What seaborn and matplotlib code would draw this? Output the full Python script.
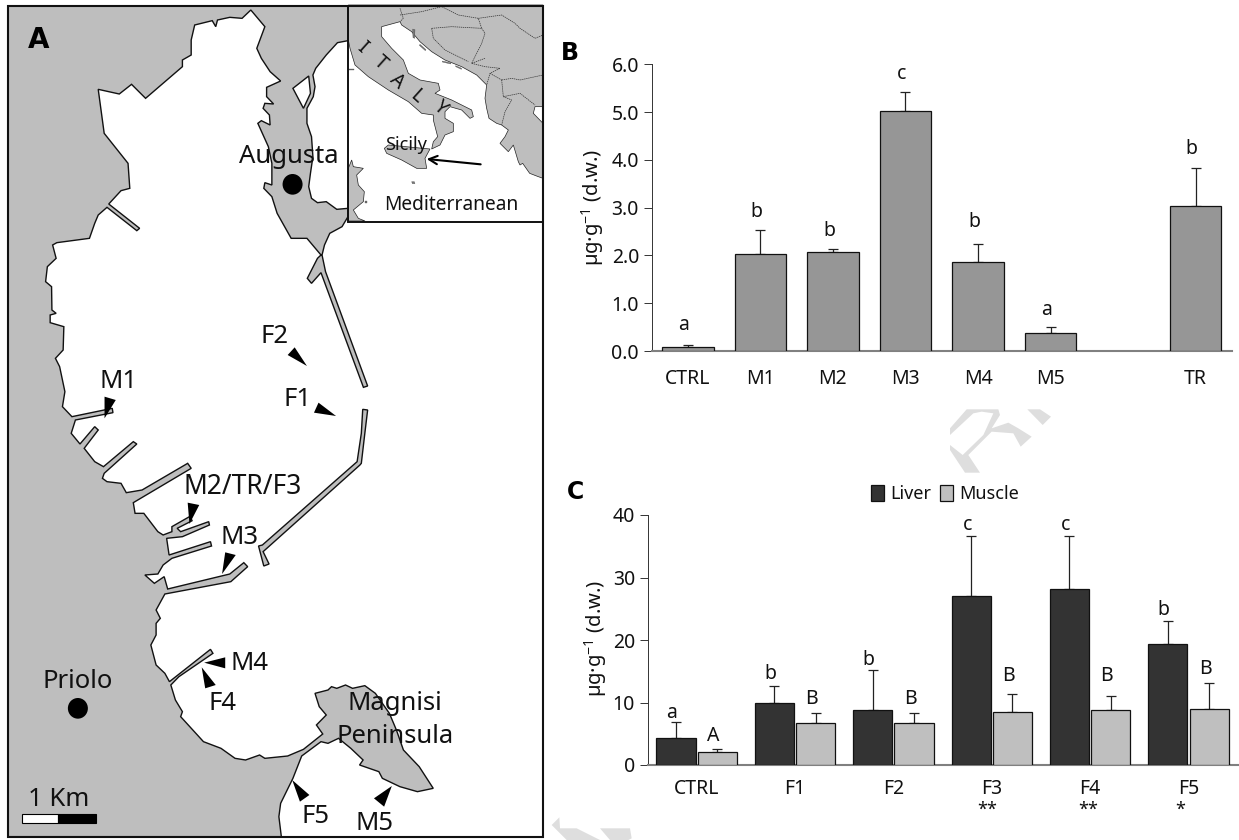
import numpy as np
import pandas as pd
import matplotlib
matplotlib.use("Agg")
import matplotlib.pyplot as plt
from matplotlib.patches import Polygon, Rectangle, Ellipse
import seaborn as sns

# ---------- data ----------
cats_b = ["CTRL", "M1", "M2", "M3", "M4", "M5", "", "TR"]
vals_b = [0.09, 2.04, 2.07, 5.03, 1.87, 0.38, np.nan, 3.03]
tops_b = [0.12, 2.53, 2.13, 5.43, 2.24, 0.50, np.nan, 3.84]
lets_b = ["a", "b", "b", "c", "b", "a", "", "b"]
pads_b = [20, 18, 18, 18, 22, 17, 0, 19]

cats_c = ["CTRL", "F1", "F2", "F3", "F4", "F5"]
liver = [4.4, 9.9, 8.8, 27.1, 28.1, 19.4]
liver_top = [6.9, 12.6, 15.2, 36.7, 36.7, 23.1]
muscle = [2.1, 6.7, 6.7, 8.5, 8.8, 9.0]
muscle_top = [2.5, 8.3, 8.3, 11.3, 11.1, 13.2]
lets_l = ["a", "b", "b", "c", "c", "b"]
lets_m = ["A", "B", "B", "B", "B", "B"]
pads_l = [9, 12, 10, 11, 11, 11]
pads_m = [13, 14, 14, 18, 20, 13]
stars_c = ["", "", "", "**", "**", "*"]
stars_dx = [0, 0, 0, -5, -2, -8]

# map outlines (map coordinates)
SX = 0.3508
OFF = 1260
def low(pts):
    return [(x, y + OFF) for x, y in pts]
def ins(pts):
    return [((345 + x / 3) / SX, 15 + y) for x, y in pts]
def wm(pts):
    return [(x / 3 / SX, y) for x, y in pts]

land_main = [(22,18),(992,18),(992,122),(962,128),(930,165),(900,205),(892,225),(898,260),(893,290),(875,325),
 (875,370),(888,410),(892,470),(885,520),(880,560),(888,595),(905,608),(930,605),(960,628),(992,625),(992,650),
 (975,680),(940,700),(925,735),(918,765),(928,815),(1048,1158),(1036,1162),(915,818),(888,850),(876,835),(905,775),
 (915,765),(875,715),(830,715),(790,640),(775,590),(752,565),(755,548),(775,555),(775,490),(765,440),(735,370),
 (745,362),(770,375),(768,345),(750,325),(755,310),(780,312),(760,290),(760,262),(800,243),(770,215),(745,175),
 (732,145),(755,80),(715,30),(690,55),(655,52),(620,60),(615,80),(605,62),(555,75),(545,120),(545,165),(520,180),
 (520,200),(415,295),(375,253),(340,282),(280,268),(297,400),(365,490),(370,565),(345,572),(310,612),(398,685),
 (390,692),(305,622),(280,645),(270,670),(255,715),(162,728),(150,735),(160,775),(135,800),(130,845),(147,860),
 (148,930),(160,940),(143,945),(143,968),(182,980),(180,1050),(158,1075),(170,1100),(185,1175),(178,1220),(205,1250),
 (320,1225),(322,1238),(215,1260)] + low([(203,40),(228,72),(270,20),(280,30),(240,85),(270,125),(295,140),(380,65),
 (390,72),(297,160),(292,175),(305,185),(345,190),(360,218),(405,210),(535,130),(545,145),(380,248),(385,280),
 (410,280),(450,335),(465,345),(490,335),(490,320),(540,290),(548,302),(505,325),(515,335),(595,305),(597,315),
 (520,350),(475,355),(482,405),(600,365),(603,378),(490,415),(465,435),(450,462),(413,465),(440,490),(468,470),
 (478,507),(655,462),(695,428),(706,440),(658,485),(470,522),(445,570),(457,595),(445,610),(445,645),(430,675),
 (445,735),(470,760),(483,785),(600,688),(607,700),(510,770),(487,795),(500,840),(520,875),(515,890),(580,965),
 (630,985),(670,1015),(700,1020),(740,1005),(755,1015),(820,1008),(865,988),(920,942),(902,915),(930,885),(910,860),
 (898,820),(935,810),(945,800),(960,805),(985,795),(1005,805),(1040,797),(1070,820),(1110,880),(1130,930),(1150,990),
 (1195,1040),(1235,1105),(1190,1115),(1140,1100),(1090,1075),(1080,1055),(1025,1035),(1035,1020),(1000,985),(965,955),
 (935,970),(915,965),(860,1008),(835,1075),(800,1150),(795,1190),(802,1250),(22,1250)])
pond = [(880,228),(835,265),(865,325),(885,280)]
breakwater = [(1034,1228),(1048,1230),(1040,1300),(1030,1390),(1026,1395),(750,1655),(767,1692),(752,1698),(737,1638),
              (748,1635),(1018,1385),(1030,1300)]

north_land = [(10,0),(594,0),(594,305),(570,305),(565,325),(594,355),(594,520),(580,515),(554,505),(533,475),(525,480),(520,470),
              (505,420),(490,440),(465,415),(480,395),(490,375),(470,360),(455,355),(432,340),(425,310),(420,280),(425,240),
              (395,210),(350,185),(300,165),(260,140),(225,110),(200,80),(170,60),(165,50),(110,65),(110,95),(140,130),(175,165),
              (190,205),(225,225),(280,235),(285,255),(270,265),(320,285),(380,315),(385,335),(375,340),(350,315),(315,305),
              (300,320),(300,340),(325,355),(325,380),(300,390),(285,420),(260,432),(265,410),(278,395),(265,345),(265,330),
              (230,325),(190,290),(130,255),(70,215),(30,180),(15,130),(10,105)]
sicily = [(118,430),(130,420),(255,432),(240,460),(245,490),(215,490),(170,465),(125,445)]
tunisia = [(10,490),(20,465),(25,485),(55,490),(35,510),(40,540),(58,560),(55,590),(25,615),(40,640),(60,648),(10,648)]
islets = [[(200,530),(208,530),(210,536),(202,536)],[(60,587),(66,587),(66,593),(60,593)],[(12,192),(26,192),(26,195),(12,195)],
          [(225,118),(243,134),(241,137),(223,121)],[(292,168),(318,174),(317,177),(292,171)],[(332,182),(350,190),(349,193),(332,185)],
          [(203,72),(210,74),(209,100),(204,98)]]
borders = [[(165,10),(175,40),(165,50)],[(165,30),(230,20),(290,5)],[(290,5),(340,30),(400,40),(410,70)],
           [(260,70),(320,65),(410,70),(420,85),(410,115),(380,175)],[(260,70),(265,100),(300,135),(370,170)],
           [(380,175),(420,185),(465,190),(435,205),(425,240)],[(470,225),(500,220),(525,225),(594,210)],
           [(470,225),(475,275),(500,285),(480,320),(470,360)],[(400,40),(470,30),(510,55),(525,70),(570,100),(594,90)],
           [(475,275),(525,265),(570,300)],[(435,205),(470,225)],[(420,160),(380,175)]]
watermark = [[(2850,1285),(2900,1228),(2995,1228),(3000,1245),(2975,1285),(3025,1268),(3055,1285),(3095,1310),(3062,1340),
              (3040,1300),(2975,1295),(2905,1365),(2940,1418),(2895,1418),(2850,1350),(2850,1335),(2888,1365),(2950,1305),
              (2980,1240),(2945,1235),(2920,1240),(2850,1305)],
             [(3082,1228),(3120,1228),(3153,1250),(3128,1275)],
             [(1655,2475),(1678,2452),(1680,2485),(1730,2485),(1800,2520),(1700,2520)],
             [(1800,2485),(1890,2485),(1895,2515),(1885,2520),(1830,2520)]]

markers = [[(840,1042),(820,1065),(875,1098)],[(908,1208),(895,1238),(958,1248)],[(298,1190),(330,1200),(298,1255)],
           [(535,1508),(568,1515),(540,1572)],[(642,1657),(672,1665),(633,1722)],[(642,1972),(642,2005),(582,1988)],
           [(575,2002),(615,2055),(585,2065)],[(833,2340),(882,2385),(855,2405)],[(1117,2358),(1095,2420),(1066,2395)]]
map_labels = [("Augusta",822,470,18.5),("Priolo",222,2045,18.5),("M1",338,1145,18.5),("F2",782,1010,18.5),("F1",848,1200,18.5),
              ("M2/TR/F3",692,1460,19),("M3",682,1612,18.5),("M4",710,1990,18.5),("F4",635,2110,18.5),("Magnisi",1125,2112,18.5),
              ("Peninsula",1125,2210,18.5),("F5",900,2450,18.5),("M5",1068,2470,18.5),("1 Km",168,2397,18.5)]
inset_labels = [("Sicily",183,420,13),("Mediterranean",320,600,13.8)]
italy_letters = [("I",50,128),("T",105,175),("A",155,230),("L",215,275),("Y",285,310)]

# ---------- style ----------
sns.set_theme(style="white")
plt.rcParams["font.family"] = ["Noto Sans", "DejaVu Sans"]
plt.rcParams["mathtext.fontset"] = "custom"
plt.rcParams["mathtext.rm"] = "Noto Sans"
plt.rcParams["mathtext.default"] = "regular"

W, H = 1239, 840
fig = plt.figure(figsize=(W / 100, H / 100), dpi=100, facecolor="white")

def px_axes(l, t, r, b):
    return fig.add_axes([l / W, 1 - b / H, (r - l) / W, (b - t) / H])

# ---------- map ----------
am = fig.add_axes([0, 0, 1, 1])
am.set_xlim(0, W / SX)
am.set_ylim(H * 3, 0)
am.axis("off")
GREY = "#BEBEBE"
for p in watermark:
    am.add_patch(Polygon(wm(p), closed=True, fc="#DEDEDE", ec="none", zorder=0))
am.add_patch(Polygon(land_main, closed=True, fc=GREY, ec="#111111", lw=1.0, zorder=1))
am.add_patch(Polygon(pond, closed=True, fc="white", ec="#111111", lw=1.0, zorder=2))
am.add_patch(Polygon(breakwater, closed=True, fc=GREY, ec="#111111", lw=1.0, zorder=2))
am.add_patch(Rectangle((992, 18), 556, 647, fc="white", ec="none", zorder=3))
for p in (north_land, sicily, tunisia):
    am.add_patch(Polygon(ins(p), closed=True, fc=GREY, ec="#222222", lw=0.5, zorder=4))
for p in islets:
    am.add_patch(Polygon(ins(p), closed=True, fc="#777777", ec="#333333", lw=0.2, zorder=4))
for b in borders:
    xs, ys = zip(*ins(b))
    am.plot(xs, ys, color="#333333", lw=0.5, ls=(0, (2, 1)), zorder=5)
am.add_patch(Rectangle((992, 18), 556, 647, fc="none", ec="#111111", lw=1.4, zorder=6))
am.add_patch(Rectangle((22, 18), 1526, 2492, fc="none", ec="#111111", lw=1.5, zorder=6))
for p in markers:
    am.add_patch(Polygon(p, closed=True, fc="black", ec="none", zorder=7))
am.add_patch(Ellipse((834, 553), 60 * 0.95, 62, fc="black", ec="none", zorder=7))
am.add_patch(Ellipse((222, 2125), 60 * 0.95, 62, fc="black", ec="none", zorder=7))
am.add_patch(Rectangle((62, 2442), 103, 28, fc="white", ec="black", lw=0.8, zorder=7))
am.add_patch(Rectangle((165, 2442), 110, 28, fc="black", ec="black", lw=0.8, zorder=7))
arrow_pts = ins([(245, 462), (407, 478)])
am.annotate("", xy=arrow_pts[0], xytext=arrow_pts[1],
            arrowprops=dict(arrowstyle="->", color="black", lw=1.5, mutation_scale=15, shrinkA=0, shrinkB=0), zorder=8)
for s, x, y, fs in map_labels:
    am.text(x, y, s, ha="center", va="center", fontsize=fs, color="#111111", zorder=8)
for s, x, y, fs in inset_labels:
    (px, py), = ins([(x, y)])
    am.text(px, py, s, ha="center", va="center", fontsize=fs, color="#111111", zorder=8)
for s, x, y in italy_letters:
    (px, py), = ins([(x, y)])
    am.text(px, py, s, ha="center", va="center", fontsize=14, rotation=-42, color="#111111", zorder=8)
am.text(110, 120, "A", ha="center", va="center", fontsize=20, fontweight="bold", color="black", zorder=8,
        family=["DejaVu Sans"])
fig.text(570 / W, 1 - 53 / H, "B", ha="center", va="center", fontsize=17, fontweight="bold", color="black", family=["DejaVu Sans"])
fig.text(575 / W, 1 - 492 / H, "C", ha="center", va="center", fontsize=17, fontweight="bold", color="black", family=["DejaVu Sans"])

def style_axis(ax, xpad):
    sns.despine(ax=ax)
    ax.patch.set_alpha(0)
    ax.spines["left"].set_color("#333333")
    ax.spines["left"].set_linewidth(0.7)
    ax.spines["bottom"].set_color("#808080")
    ax.spines["bottom"].set_linewidth(1.5)
    ax.tick_params(axis="y", length=6, width=0.7, color="#333333", left=True, pad=3, labelsize=14, labelcolor="#111111")
    ax.tick_params(axis="x", length=0, pad=xpad, labelsize=14, labelcolor="#111111")
    ax.set_xlabel("")
    ax.set_ylabel("")

def err(ax, xs, vs, tops, color="#222222"):
    xs, vs, tops = map(lambda a: np.asarray(a, float), (xs, vs, tops))
    ax.errorbar(xs, vs, yerr=[np.zeros_like(vs), tops - vs], fmt="none", ecolor=color, elinewidth=0.9,
                capsize=3.5, capthick=0.9, zorder=1)

def letters(ax, xs, tops, labs, pads, dx=-4):
    for x, t, s, p in zip(xs, tops, labs, pads):
        if s:
            ax.annotate(s, (x, t), xytext=(dx * .72, p * .72), textcoords="offset points", ha="center",
                        va="center", fontsize=14, color="#111111")

# ---------- panel B ----------
ab = px_axes(651.5, 64.3, 1232, 351)
df_b = pd.DataFrame({"site": cats_b, "value": vals_b})
sns.barplot(data=df_b, x="site", y="value", order=cats_b, color="#969696", saturation=1, width=0.71,
            edgecolor="#111111", linewidth=0.9, errorbar=None, ax=ab, zorder=3)
pos_b = np.arange(len(cats_b))
ab.set_xlim(-0.5, len(cats_b) - 0.5)
ab.set_ylim(0, 6)
ab.set_yticks(np.arange(0, 7, 1.0))
ab.set_yticklabels([f"{v:.1f}" for v in np.arange(0, 7, 1.0)])
err(ab, pos_b, vals_b, tops_b)
letters(ab, pos_b, tops_b, lets_b, pads_b)
style_axis(ab, 13)
fig.text(593 / W, 1 - 207 / H, r"µg·g$^{-1}$ (d.w.)", rotation=90, ha="center", va="center", fontsize=14.5, color="#111111")

# ---------- panel C ----------
ac = px_axes(647.5, 515, 1237.7, 765)
df_c = pd.DataFrame({"site": cats_c * 2, "tissue": ["Liver"] * 6 + ["Muscle"] * 6, "value": liver + muscle})
sns.barplot(data=df_c, x="site", y="value", hue="tissue", order=cats_c, hue_order=["Liver", "Muscle"],
            palette={"Liver": "#333333", "Muscle": "#BFBFBF"}, saturation=1, width=0.84, gap=0.05,
            edgecolor="#111111", linewidth=0.9, errorbar=None, ax=ac, zorder=3)
pos_c = np.arange(len(cats_c))
ac.set_xlim(-0.5, len(cats_c) - 0.5)
ac.set_ylim(0, 40)
ac.set_yticks(np.arange(0, 41, 10))
err(ac, pos_c - 0.21, liver, liver_top)
err(ac, pos_c + 0.21, muscle, muscle_top)
letters(ac, pos_c - 0.21, liver_top, lets_l, pads_l)
letters(ac, pos_c + 0.21, muscle_top, lets_m, pads_m)
for x, s, d in zip(pos_c, stars_c, stars_dx):
    if s:
        ac.annotate(s, (x, 0), xytext=(d * .72, -45 * .72), textcoords="offset points", ha="center", va="center",
                    fontsize=13, color="#111111")
leg = ac.legend(loc="center", bbox_to_anchor=(945 / W, 1 - 494 / H), bbox_transform=fig.transFigure, ncol=2, frameon=False,
                handlelength=0.75, handleheight=0.95, handletextpad=0.35, columnspacing=0.45,
                prop={"size": 13}, title=None, borderpad=0)
style_axis(ac, 10)
for t in leg.get_texts():
    t.set_color("#111111")
fig.text(596 / W, 1 - 638 / H, r"µg·g$^{-1}$ (d.w.)", rotation=90, ha="center", va="center", fontsize=14.5, color="#111111")

fig.savefig("out.png", dpi=100, facecolor="white")
